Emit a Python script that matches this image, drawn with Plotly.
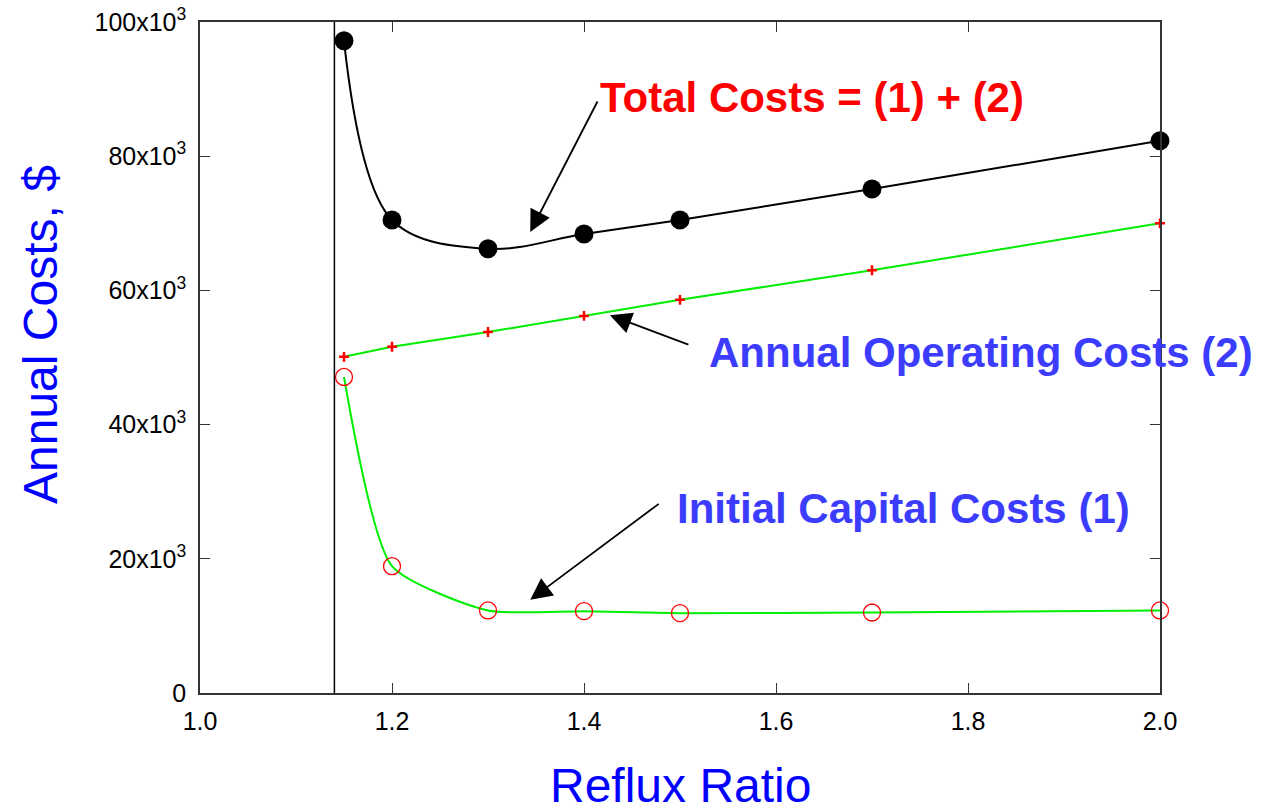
import plotly.graph_objects as go

reflux = [1.15, 1.2, 1.3, 1.4, 1.5, 1.7, 2.0]
total_costs = [97200, 70500, 66200, 68400, 70500, 75100, 82300]
operating_costs = [50100, 51600, 53800, 56200, 58600, 63000, 70000]
capital_costs = [47100, 18900, 12300, 12200, 11900, 12000, 12300]
min_reflux = 1.14

y_tickvals = [0, 20000, 40000, 60000, 80000, 100000]
y_ticktext = ["0", "20x10<sup>3</sup>", "40x10<sup>3</sup>", "60x10<sup>3</sup>",
              "80x10<sup>3</sup>", "100x10<sup>3</sup>"]
x_tickvals = [1.0, 1.2, 1.4, 1.6, 1.8, 2.0]
x_ticktext = ["1.0", "1.2", "1.4", "1.6", "1.8", "2.0"]

FONT = "Liberation Sans, Arial, sans-serif"

fig = go.Figure()
fig.add_trace(go.Scatter(x=reflux, y=capital_costs, mode="lines+markers", cliponaxis=False,
                         line=dict(color="#00ee00", width=2, shape="spline", smoothing=0.6),
                         marker=dict(symbol="circle-open", size=17, color="red", line=dict(width=1.3))))
fig.add_trace(go.Scatter(x=reflux, y=operating_costs, mode="lines+markers", cliponaxis=False,
                         line=dict(color="#00ee00", width=2),
                         marker=dict(symbol="cross-thin", size=7, color="red", line=dict(width=2.5, color="red"))))
fig.add_trace(go.Scatter(x=reflux, y=total_costs, mode="lines+markers", cliponaxis=False,
                         line=dict(color="black", width=2, shape="spline", smoothing=1.0),
                         marker=dict(symbol="circle", size=19, color="black")))

fig.add_shape(type="line", x0=min_reflux, x1=min_reflux, y0=0, y1=1, yref="paper",
              line=dict(color="black", width=1.5))

# arrows
arrow_style = dict(text="", showarrow=True, arrowhead=2, arrowsize=2.4, arrowwidth=1.8, arrowcolor="black")
fig.add_annotation(x=1.344, y=68700, ax=68, ay=-132, **arrow_style)
fig.add_annotation(x=1.427, y=56300, ax=80, ay=30, **arrow_style)
fig.add_annotation(x=1.344, y=13900, ax=130, ay=-97, **arrow_style)

fig.add_annotation(x=(598 - 200) / 960 + 1.0, y=(693 - 97) / 6.71 * 1000, xanchor="left", yanchor="middle",
                   text="<b>Total Costs = (1) + (2)</b>", showarrow=False,
                   font=dict(family=FONT, size=42, color="#ff0000"))
fig.add_annotation(x=(707 - 200) / 960 + 1.0, y=(693 - 352) / 6.71 * 1000, xanchor="left", yanchor="middle",
                   text="<b>Annual Operating Costs (2)</b>", showarrow=False,
                   font=dict(family=FONT, size=42, color="#3c3cff"))
fig.add_annotation(x=(675 - 200) / 960 + 1.0, y=(693 - 508) / 6.71 * 1000, xanchor="left", yanchor="middle",
                   text="<b>Initial Capital Costs (1)</b>", showarrow=False,
                   font=dict(family=FONT, size=42, color="#3c3cff"))

# axis titles
fig.add_annotation(xref="paper", yref="paper", x=(40 - 200) / 960, y=(693 - 335) / 671,
                   xanchor="center", yanchor="middle", textangle=-90, showarrow=False,
                   text="Annual Costs, $", font=dict(family=FONT, size=48, color="#0000ff"))
fig.add_annotation(xref="paper", yref="paper", x=(680 - 200) / 960, y=(693 - 786) / 671,
                   xanchor="center", yanchor="middle", showarrow=False,
                   text="Reflux Ratio", font=dict(family=FONT, size=48, color="#0000ff"))

fig.update_layout(
    width=1263, height=809, showlegend=False,
    paper_bgcolor="white", plot_bgcolor="white",
    margin=dict(l=200, r=103, t=22, b=116, autoexpand=False),
    font=dict(family=FONT, size=25, color="black"),
)
fig.update_xaxes(range=[1.0, 2.0], tickvals=x_tickvals, ticktext=x_ticktext, automargin=False,
                 tickfont=dict(family=FONT, size=25, color="black"), ticklabelstandoff=5,
                 ticks="inside", ticklen=10, tickcolor="#333", showline=True, linecolor="#333",
                 linewidth=1.5, mirror="ticks", showgrid=False, zeroline=False)
fig.update_yaxes(range=[0, 100000], tickvals=y_tickvals, ticktext=y_ticktext, automargin=False,
                 tickfont=dict(family=FONT, size=25, color="black"), ticklabelstandoff=7,
                 ticks="inside", ticklen=10, tickcolor="#333", showline=True, linecolor="#333",
                 linewidth=1.5, mirror="ticks", showgrid=False, zeroline=False)

fig.write_html("out.html", config={"displayModeBar": False},
               post_script="document.body.style.margin='0';document.body.style.overflow='hidden';")
